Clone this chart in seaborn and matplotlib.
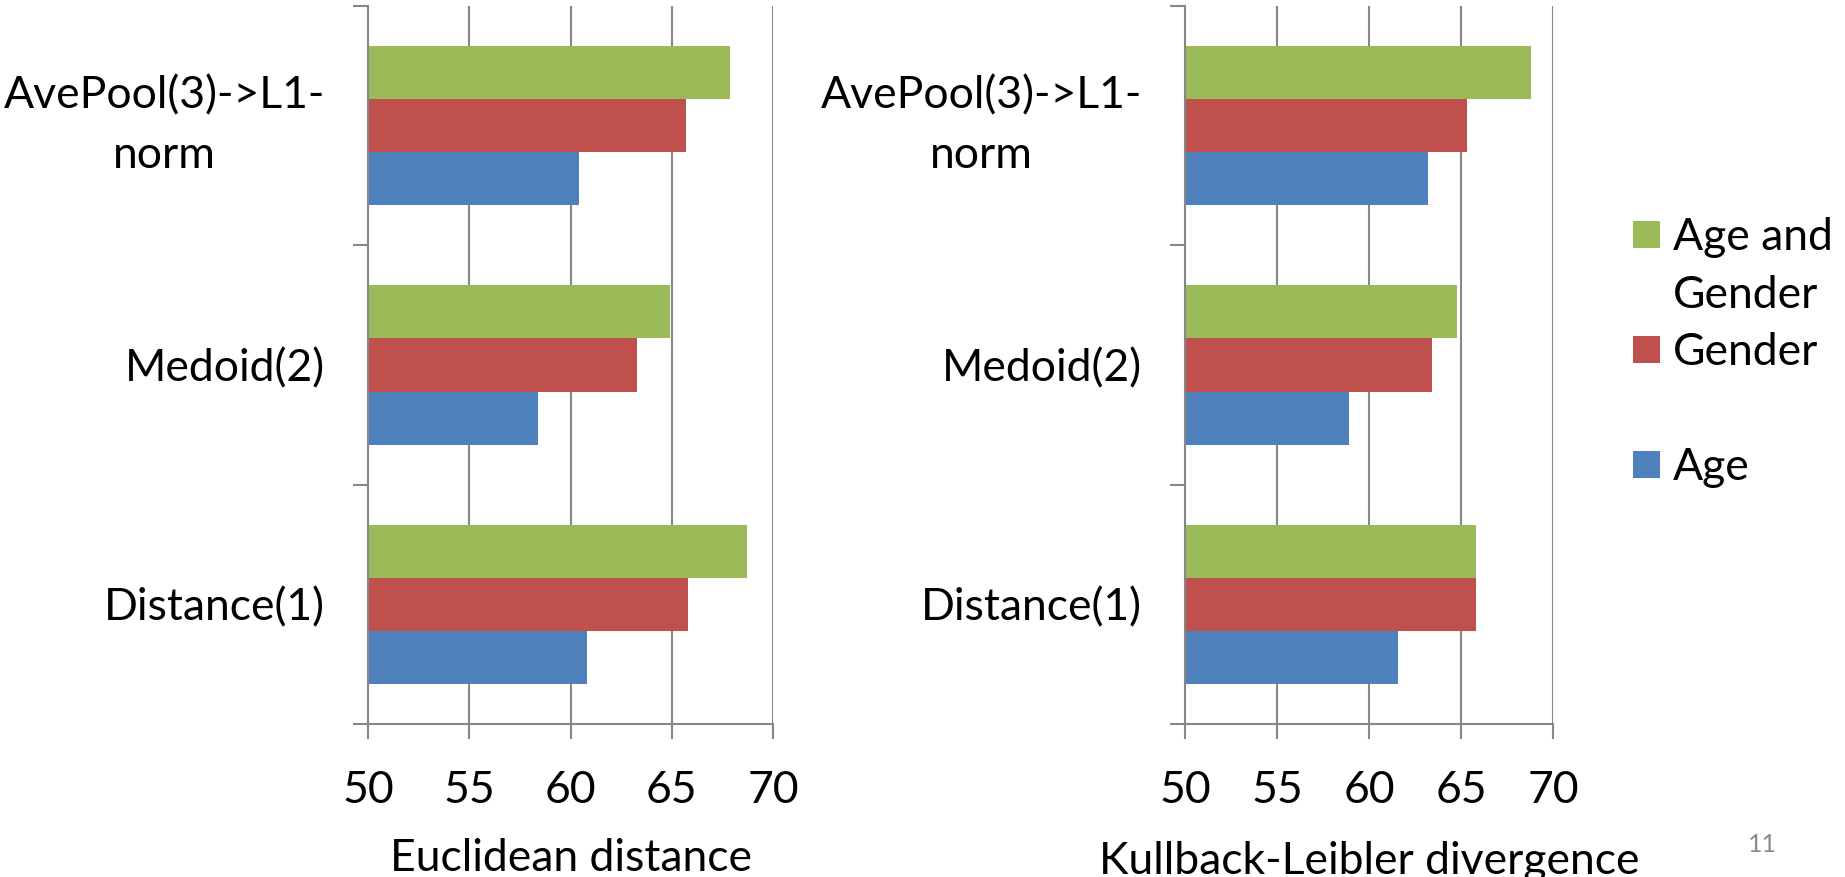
import matplotlib
matplotlib.use("Agg")
import matplotlib.pyplot as plt
import pandas as pd
import seaborn as sns
from matplotlib.patches import Rectangle

# ---------------- data ----------------
methods = ["AvePool(3)->L1-\nnorm", "Medoid(2)", "Distance(1)"]
series = ["Age and Gender", "Gender", "Age"]
legend_labels = ["Age and\nGender", "Gender", "Age"]

euclid_age_gender = [67.9, 64.9, 68.7]
euclid_gender = [65.7, 63.3, 65.8]
euclid_age = [60.4, 58.4, 60.8]

kl_age_gender = [68.8, 64.8, 65.8]
kl_gender = [65.3, 63.4, 65.8]
kl_age = [63.2, 58.9, 61.6]

x_ticks = [50, 55, 60, 65, 70]
x_titles = ["Euclidean distance", "Kullback-Leibler divergence"]
page_number = "11"

colors = ["#9BBB59", "#C0504D", "#4F81BD"]
GRAY = "#878787"

sns.set_theme(style="white")
plt.rcParams["font.family"] = ["Lato", "DejaVu Sans"]

FS = 32
LS_CAT = 1.56
LS_LEG = 1.52
PITCH = 58.5
W, H = 1845, 877
fig = plt.figure(figsize=(W / 100, H / 100), dpi=100)


def long_df(ag, g, a):
    rows = []
    for s, vals in zip(series, [ag, g, a]):
        for m, v in zip(methods, vals):
            rows.append({"method": m, "series": s, "value": v})
    return pd.DataFrame(rows)


def px_axes(x0, x1, y0, y1):
    return fig.add_axes([x0 / W, 1 - y1 / H, (x1 - x0) / W, (y1 - y0) / H])


panels = [
    (px_axes(368, 773, 6, 724), long_df(euclid_age_gender, euclid_gender, euclid_age), x_titles[0], 19),
    (px_axes(1185, 1553, 6, 724), long_df(kl_age_gender, kl_gender, kl_age), x_titles[1], 21.5),
]

for ax, df, title, lpad in panels:
    sns.barplot(data=df, y="method", x="value", hue="series", order=methods,
                hue_order=series, palette=colors, width=0.665, orient="h",
                saturation=1, linewidth=0, legend=False, errorbar=None, ax=ax)
    ax.set_xlim(50, 70)
    ax.set_ylim(2.5, -0.5)
    ax.set_xticks(x_ticks)
    ax.set_xticklabels([str(t) for t in x_ticks], fontsize=FS, color="black")
    ax.grid(axis="x", color=GRAY, linewidth=1.5)
    ax.grid(axis="y", visible=False)
    ax.set_axisbelow(True)
    ax.set_yticks([-0.5, 0.5, 1.5, 2.5])
    ax.set_yticklabels([])
    ax.set_yticks([0, 1, 2], labels=methods, minor=True)
    for lbl in ax.get_yticklabels(minor=True):
        lbl.set_multialignment("center")
        lbl.set_fontsize(FS)
        lbl.set_linespacing(LS_CAT)
        lbl.set_color("black")
        if "\n" in lbl.get_text():
            lbl.set_verticalalignment("center")
    ax.tick_params(axis="y", which="major", direction="out", length=10.8,
                   width=1.5, color=GRAY, left=True)
    ax.tick_params(axis="y", which="minor", length=0, pad=31, left=True)
    ax.tick_params(axis="x", which="major", direction="out", length=10.8,
                   width=1.5, color=GRAY, pad=22.5, bottom=True)
    for side in ["top", "right"]:
        ax.spines[side].set_visible(False)
    for side in ["left", "bottom"]:
        ax.spines[side].set_color(GRAY)
        ax.spines[side].set_linewidth(1.5)
    ax.set_ylabel("")
    ax.set_xlabel(title, fontsize=FS, color="black", labelpad=lpad)
    ax.set_facecolor("white")

# legend (manual, figure pixel coordinates)
leg_centers = [234, 349.5, 464]
for lab, col, cy in zip(legend_labels, colors, leg_centers):
    fig.patches.append(Rectangle((1633 / W, 1 - (cy + 13.5) / H), 27 / W, 27 / H,
                                 transform=fig.transFigure, facecolor=col,
                                 edgecolor="none"))
    nlines = lab.count("\n")
    base = cy + 15.5 + PITCH * nlines
    fig.text(1673 / W, 1 - base / H, lab, fontsize=FS, ha="left",
             va="baseline", linespacing=LS_LEG, color="black")

fig.text(1762 / W, 1 - 845 / H, page_number, fontsize=18, color="#8C8C8C",
         ha="center", va="center")

fig.savefig("out.png", dpi=100, facecolor="white")
